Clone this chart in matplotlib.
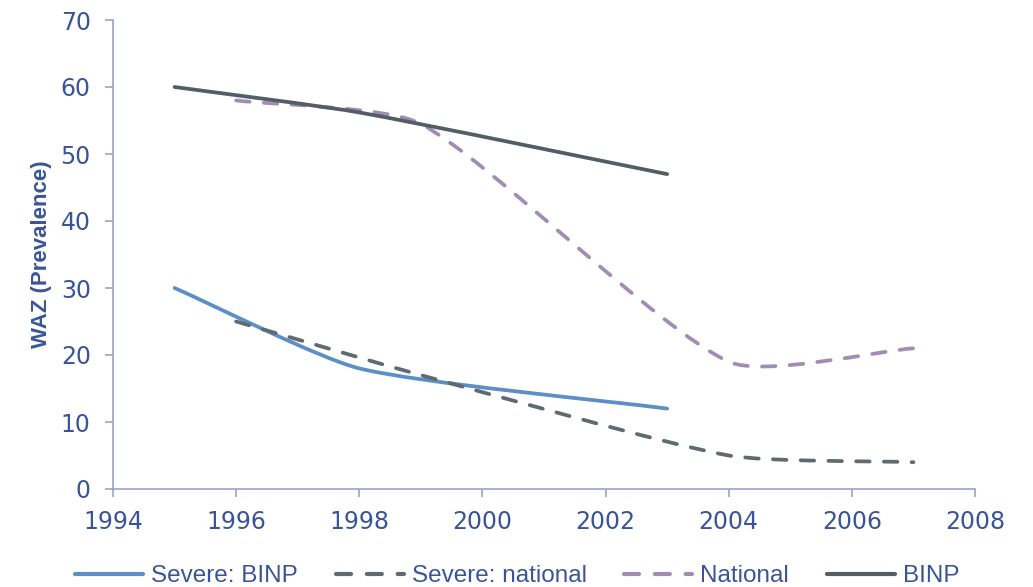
import numpy as np
import matplotlib
matplotlib.use("Agg")
import matplotlib.pyplot as plt
from matplotlib.path import Path
from matplotlib.patches import PathPatch
from matplotlib.lines import Line2D

# ---- data ----
sev_binp_years = [1995, 1998, 2003]
sev_binp_vals = [30, 18, 12]
sev_nat_years = [1996, 1999, 2004, 2007]
sev_nat_vals = [25, 17, 5, 4]
nat_years = [1996, 1999, 2004, 2007]
nat_vals = [58, 54.5, 19, 21]
binp_years = [1995, 1998, 2003]
binp_vals = [60, 56.2, 47]

labels = ["Severe: BINP", "Severe: national", "National", "BINP"]
colors = ["#5b8fc6", "#5f6a72", "#a28cb4", "#535d65"]
DASH = (0, (3.6, 3.8))
styles = ["-", DASH, DASH, "-"]

xticks = [1994, 1996, 1998, 2000, 2002, 2004, 2006, 2008]
yticks = [0, 10, 20, 30, 40, 50, 60, 70]

TXT = "#3a5597"
SPINE = "#9aa3c6"
LW = 2.7


def smooth_path(ax, xs, ys, k=0.2):
    """Excel-like smoothed line: cubic Bezier in display space, mapped back to data."""
    P = ax.transData.transform(np.column_stack([xs, ys]).astype(float))
    n = len(P)
    T = []
    for i in range(n):
        a = P[i - 1] if i > 0 else P[i]
        b = P[i + 1] if i < n - 1 else P[i]
        d = b - a
        T.append(d / np.hypot(*d))
    verts = [P[0]]
    codes = [Path.MOVETO]
    for i in range(n - 1):
        L = np.hypot(*(P[i + 1] - P[i]))
        verts += [P[i] + k * L * T[i], P[i + 1] - k * L * T[i + 1], P[i + 1]]
        codes += [Path.CURVE4] * 3
    inv = ax.transData.inverted()
    return Path(inv.transform(np.array(verts)), codes)


fig = plt.figure(figsize=(10.33, 5.87), dpi=100)
ax = fig.add_axes([113 / 1033, 1 - 489 / 587, 862 / 1033, 469 / 587])
ax.set_xlim(1994, 2008)
ax.set_ylim(0, 70)

series = [(sev_binp_years, sev_binp_vals), (sev_nat_years, sev_nat_vals),
          (nat_years, nat_vals), (binp_years, binp_vals)]
handles = []
for (xs, ys), lab, c, ls in zip(series, labels, colors, styles):
    patch = PathPatch(smooth_path(ax, xs, ys), fill=False, edgecolor=c, lw=LW,
                      linestyle=ls, capstyle="round", joinstyle="round")
    ax.add_patch(patch)
    handles.append(Line2D([], [], color=c, lw=LW + 0.3, linestyle=ls,
                          dash_capstyle="round", solid_capstyle="round"))

ax.set_xticks(xticks)
ax.set_yticks(yticks)
for s in ["top", "right"]:
    ax.spines[s].set_visible(False)
for s in ["left", "bottom"]:
    ax.spines[s].set_color(SPINE)
    ax.spines[s].set_linewidth(1.2)
ax.tick_params(axis="both", colors=SPINE, direction="out", length=6, width=1.2,
               labelcolor=TXT, labelsize=17)
for t in ax.get_xticklabels() + ax.get_yticklabels():
    t.set_fontfamily("DejaVu Sans")
ax.tick_params(axis="y", pad=10)
ax.tick_params(axis="x", pad=9)
ax.set_ylabel("WAZ (Prevalence)", color=TXT, fontsize=16, fontweight="bold",
              family="Liberation Sans", labelpad=6)

leg = fig.legend(handles, labels, loc="center left",
                 bbox_to_anchor=(75 / 1033, 1 - 576 / 587),
                 ncol=4, frameon=False, handlelength=2.8, handletextpad=0.33,
                 columnspacing=1.55, borderpad=0, borderaxespad=0,
                 prop={"family": "Liberation Sans", "size": 17.5})
for t in leg.get_texts():
    t.set_color(TXT)

fig.savefig("out.png", dpi=100)
